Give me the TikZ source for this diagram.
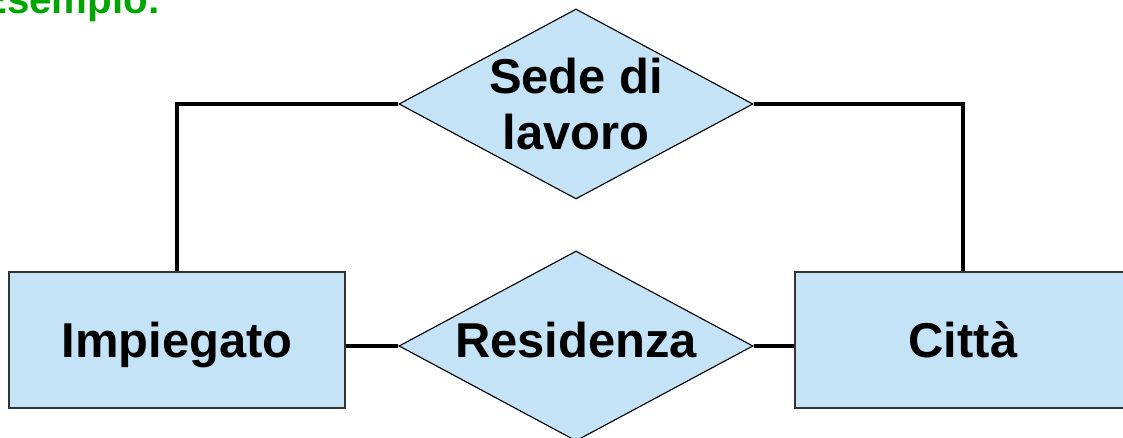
\documentclass[tikz,border=0pt]{standalone}
\usepackage{fontspec}
\setmainfont{Liberation Sans}
\usepackage[HTML]{xcolor}
\usepackage{tikz}
\usetikzlibrary{positioning, shapes.geometric}

\definecolor{erfill}{HTML}{C5E3F7}
\definecolor{esgreen}{HTML}{00A600}

\tikzset{
  bigtext/.style={font=\bfseries\fontsize{34.8}{40.5}\selectfont},
  entity/.style={draw=black!80, line width=1pt, fill=erfill, bigtext,
    minimum width=8.4cm, minimum height=3.4cm, text height=0.9cm, text depth=0pt},
  relation/.style={diamond, draw=black, line width=0.8pt, fill=erfill,
    minimum width=8.85cm, minimum height=4.75cm, inner sep=0pt},
  rellabel/.style={bigtext, align=center, inner sep=0pt},
  link/.style={line width=2.3pt}
}

\begin{document}
\begin{tikzpicture}
\clip (0,0) rectangle (28.075,10.95);

\node[anchor=base west, inner sep=0pt, text=esgreen,
  font=\bfseries\fontsize{28.6}{34}\selectfont] (title) at (-0.5,10.6) {Esempio:};

\node[entity] (Imp) at (4.425,2.45)  {Impiegato};
\node[entity] (Cit) at (24.075,2.45) {Città};

\node[relation, label={[rellabel, text height=0.9cm, text depth=0pt, yshift=0.15cm]center:Residenza}] (Res) at (14.4,2.3) {};
\node[relation, label={[rellabel]center:Sede di\\lavoro}] (Sede) at (14.4,8.35) {};

\draw[link] (Imp.north) |- (Sede.west);
\draw[link] (Sede.east) -| (Cit.north);
\draw[link] (Res.west) -- (Res.west -| Imp.east);
\draw[link] (Res.east) -- (Res.east -| Cit.west);
\end{tikzpicture}
\end{document}
